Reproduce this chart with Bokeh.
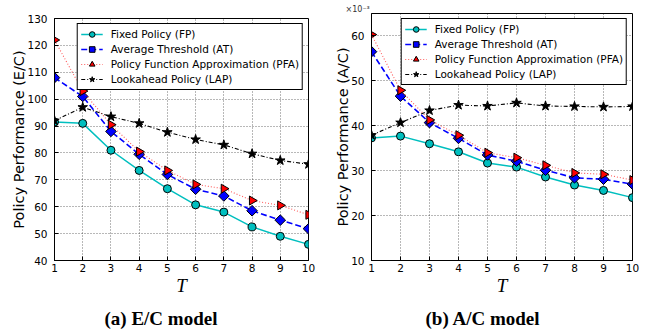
import math
from bokeh.plotting import figure
from bokeh.layouts import row, column
from bokeh.models import Range1d, FixedTicker, SingleIntervalTicker, Legend, LegendItem, Title
from bokeh.embed import file_html
from bokeh.resources import INLINE

T = [1, 2, 3, 4, 5, 6, 7, 8, 9, 10]

# (a) E/C model
ec_fp = [91.5, 91.0, 81.0, 73.5, 66.7, 60.7, 58.0, 52.5, 49.0, 46.0]
ec_at = [108.0, 101.0, 88.0, 79.5, 72.0, 66.5, 64.0, 58.5, 55.0, 51.8]
ec_pfa = [122.0, 103.0, 90.5, 80.5, 73.5, 68.3, 66.7, 62.3, 60.5, 57.0]
ec_lap = [92.0, 97.0, 93.5, 91.0, 87.7, 85.0, 83.0, 79.7, 77.2, 75.8]

# (b) A/C model, in units of 1e-3
ac_fp = [37.3, 37.7, 36.0, 34.2, 31.7, 30.8, 28.6, 26.8, 25.6, 24.0]
ac_at = [56.5, 46.6, 40.7, 37.2, 33.5, 32.1, 30.1, 28.4, 28.1, 27.0]
ac_pfa = [60.3, 47.9, 41.3, 37.9, 34.0, 32.9, 31.2, 29.5, 29.2, 27.9]
ac_lap = [37.9, 40.7, 43.4, 44.6, 44.4, 45.1, 44.4, 44.3, 44.2, 44.3]

labels = ["Fixed Policy (FP)", "Average Threshold (AT)",
          "Policy Function Approximation (PFA)", "Lookahead Policy (LAP)"]
captions = ["(a) E/C model", "(b) A/C model"]
ylabels = ["Policy Performance (E/C)", "Policy Performance (A/C)"]
xlabel = "T"

TICK_FONT = "10.5px"


def make_panel(series, y0, y1, ylabel, caption, cap_off, fw, fh, bl, br, bt, bb):
    p = figure(frame_width=fw, frame_height=fh, min_border_left=bl, min_border_right=br,
               min_border_top=bt, min_border_bottom=bb, output_backend="svg",
               toolbar_location=None, x_range=Range1d(1, 10), y_range=Range1d(y0, y1),
               title=caption, title_location="below")
    p.title.align = "left"
    p.title.offset = cap_off
    p.title.text_font = "Liberation Serif"
    p.title.text_font_style = "bold"
    p.title.text_font_size = "19px"
    p.title.text_color = "black"
    p.title.standoff = 15
    p.background_fill_color = "white"
    p.border_fill_color = "white"
    p.outline_line_color = "black"
    p.outline_line_width = 1
    p.outline_line_alpha = 1

    p.xaxis.ticker = FixedTicker(ticks=T)
    p.yaxis.ticker = SingleIntervalTicker(interval=10)
    for ax in (p.xaxis[0], p.yaxis[0]):
        ax.major_tick_in = 4
        ax.major_tick_out = 0
        ax.minor_tick_line_color = None
        ax.major_label_standoff = 3
        ax.major_label_text_font = "DejaVu Sans"
        ax.major_label_text_font_size = TICK_FONT
        ax.major_label_text_color = "black"
        ax.axis_line_color = "black"
        ax.major_tick_line_color = "black"
    p.yaxis.axis_label = ylabel
    p.yaxis.axis_label_text_font = "DejaVu Sans"
    p.yaxis.axis_label_text_font_style = "normal"
    p.yaxis.axis_label_text_font_size = "14.5px"
    p.yaxis.axis_label_text_color = "black"
    p.yaxis.axis_label_standoff = -3
    p.xaxis.axis_label = xlabel
    p.xaxis.axis_label_text_font = "Liberation Serif"
    p.xaxis.axis_label_text_font_style = "italic"
    p.xaxis.axis_label_text_font_size = "19px"
    p.xaxis.axis_label_text_color = "black"
    p.xaxis.axis_label_standoff = 0

    p.grid.grid_line_color = "black"
    p.grid.grid_line_dash = "1 2"
    p.grid.grid_line_width = 0.8
    p.grid.grid_line_alpha = 0.7

    fp, at, pfa, lap = series
    items = []
    l1 = p.line(T, fp, line_color="#00BFBF", line_width=1.5)
    m1 = p.scatter(T, fp, marker="circle", size=8, fill_color="#00BFBF", line_color="black", line_width=1)
    l2 = p.line(T, at, line_color="blue", line_width=1.6, line_dash="6 3")
    m2 = p.scatter(T, at, marker="square", angle=math.pi / 4, size=7.5, fill_color="blue",
                   line_color="black", line_width=1)
    l3 = p.line(T, pfa, line_color="#FF3030", line_width=1.1, line_dash="1 2", line_alpha=0.8)
    m3 = p.scatter(T, pfa, marker="triangle", angle=-math.pi / 2, size=9, fill_color="red",
                   line_color="black", line_width=1)
    l4 = p.line(T, lap, line_color="black", line_width=1.1, line_dash="4 2 1 2")
    m4 = p.scatter(T, lap, marker="star", size=10, fill_color="black", line_color="black", line_width=1)
    for lab, rs in zip(labels, [[l1, m1], [l2, m2], [l3, m3], [l4, m4]]):
        items.append(LegendItem(label=lab, renderers=rs))
    leg = Legend(items=items, location="top_right", margin=5, padding=3, spacing=1,
                 glyph_width=22, glyph_height=14, label_height=14, label_standoff=8,
                 label_text_font="DejaVu Sans", label_text_font_size=TICK_FONT,
                 label_text_color="black", border_line_color="black", border_line_width=1,
                 border_line_alpha=1, background_fill_alpha=1)
    p.add_layout(leg)
    return p


p1 = make_panel([ec_fp, ec_at, ec_pfa, ec_lap], 40, 130, ylabels[0], captions[0], 50,
                fw=254, fh=242, bl=54, br=22, bt=18, bb=70)
p2 = make_panel([ac_fp, ac_at, ac_pfa, ac_lap], 10, 65, ylabels[1], captions[1], 54,
                fw=261, fh=247, bl=41, br=12, bt=13, bb=73)
p2.add_layout(Title(text="×10⁻³", align="left", offset=-26, standoff=0,
                    text_font="DejaVu Sans", text_font_style="normal", text_font_size="8px",
                    text_color="#333333"), "above")

layout = row(column(p1), column(p2))
open("out.html", "w").write(file_html(layout, INLINE))
